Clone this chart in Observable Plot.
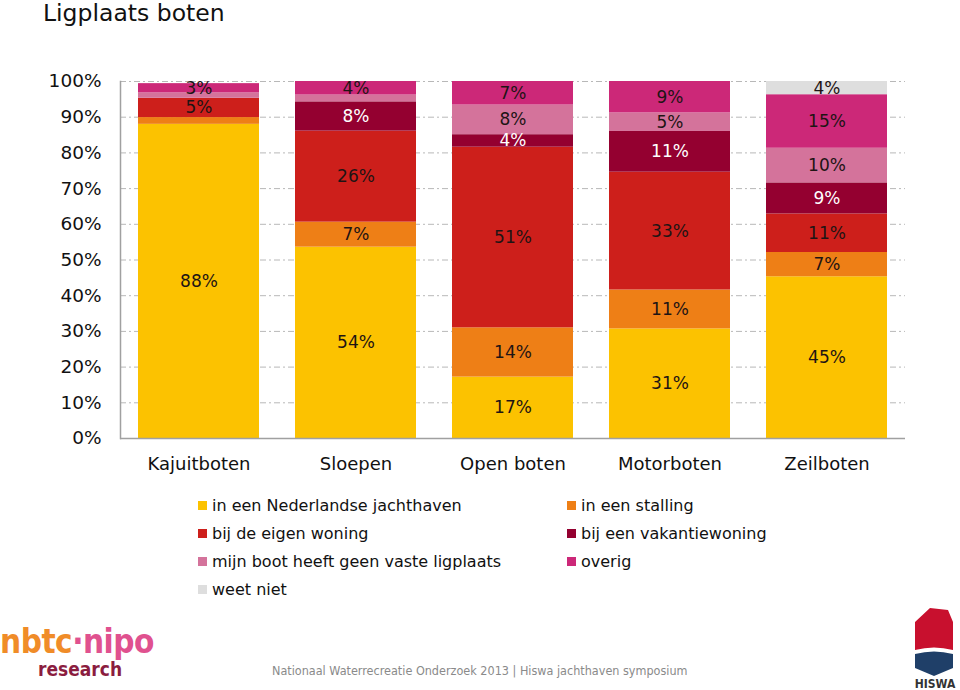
<!DOCTYPE html>
<html>
<head>
<meta charset="utf-8">
<script src="https://cdn.jsdelivr.net/npm/d3@7"></script>
<script src="https://cdn.jsdelivr.net/npm/@observablehq/plot@0.6"></script>
<style>
  html, body { margin: 0; padding: 0; background: #fff; }
  #wrap { position: relative; width: 960px; height: 690px; overflow: hidden; font-family: "DejaVu Sans", Verdana, sans-serif; }
  #title { position: absolute; left: 43px; top: 0px; font-size: 23.5px; line-height: 26px; color: #111; }
  #chart { position: absolute; left: 0; top: 0; }
  #legend { position: absolute; left: 198px; top: 494px; display: grid; grid-template-columns: 369px 260px; row-gap: 6px; font-size: 16px; color: #111; }
  #legend .item { display: flex; align-items: center; height: 22px; white-space: nowrap; }
  #legend .sw { width: 9px; height: 9px; margin-right: 5px; flex: none; }
  #footer { position: absolute; left: 272px; top: 663px; font-family: "DejaVu Sans Condensed", "DejaVu Sans", sans-serif; font-size: 12.5px; color: #8a8a8a; white-space: nowrap; }
  #nbtc { position: absolute; left: 0px; top: 624px; font-family: "DejaVu Sans Condensed", "DejaVu Sans", sans-serif; font-weight: bold; }
  #nbtc .l1 { font-size: 33px; line-height: 35px; letter-spacing: -0.5px; }
  #nbtc .l2 { font-size: 19px; line-height: 20px; color: #8b1d3f; margin-left: 38px; }
  #hiswa { position: absolute; left: 908px; top: 604px; }
</style>
</head>
<body>
<div id="wrap">
  <div id="title">Ligplaats boten</div>
  <div id="chart"></div>
  <div id="legend"></div>
  <div id="nbtc"><div class="l1"><span style="color:#f08c28">nbtc</span><span style="color:#e0518f">·nipo</span></div><div class="l2">research</div></div>
  <div id="footer">Nationaal Waterrecreatie Onderzoek 2013 | Hiswa jachthaven symposium</div>
  <svg id="hiswa" width="52" height="86" viewBox="0 0 52 86">
    <path d="M7 18 L22 4 L40 6 L45 18 L45 46 Q26 41 7 46 Z" fill="#c8102e"/>
    <path d="M7 50 Q26 45 45 50 L45 64 L26 72 L7 64 Z" fill="#1f3f68"/>
    <text x="27" y="84" text-anchor="middle" font-family="DejaVu Sans Condensed, DejaVu Sans, sans-serif" font-weight="bold" font-size="12" fill="#333">HISWA</text>
  </svg>
</div>
<script>
const categories = ["Kajuitboten", "Sloepen", "Open boten", "Motorboten", "Zeilboten"];
const series = [
  "in een Nederlandse jachthaven",
  "in een stalling",
  "bij de eigen woning",
  "bij een vakantiewoning",
  "mijn boot heeft geen vaste ligplaats",
  "overig",
  "weet niet"
];
const colors = ["#fcc200", "#ee7f16", "#cd1f1b", "#940030", "#d4739b", "#cc2878", "#dedede"];
// values (%) per series, in category order
const jachthaven     = [88.0, 53.6, 17.2, 30.7, 45.3];
const stalling       = [1.9, 7.0, 13.8, 10.9, 6.8];
const eigenWoning    = [5.4, 25.5, 50.6, 33.0, 10.8];
const vakantiewoning = [0, 8.2, 3.5, 11.4, 8.7];
const geenLigplaats  = [1.5, 1.9, 8.3, 5.2, 9.7];
const overig         = [2.6, 3.8, 6.6, 8.8, 15.0];
const weetNiet       = [0, 0, 0, 0, 3.7];
const yTicks = [0, 10, 20, 30, 40, 50, 60, 70, 80, 90, 100];

const valueLists = [jachthaven, stalling, eigenWoning, vakantiewoning, geenLigplaats, overig, weetNiet];
const data = [];
categories.forEach((c, i) => {
  series.forEach((s, j) => {
    data.push({category: c, series: s, value: valueLists[j][i]});
  });
});

const labelMin = 3;
const darkSeries = "bij een vakantiewoning";
const lbl = d => Math.round(d.value);

const plot = Plot.plot({
  width: 960,
  height: 480,
  marginLeft: 120,
  marginRight: 55,
  marginTop: 81,
  marginBottom: 42,
  style: {fontFamily: "DejaVu Sans, Verdana, sans-serif", background: "transparent"},
  x: {domain: categories, paddingInner: 0.23, paddingOuter: 0.115, label: null},
  y: {domain: [0, 100], label: null},
  color: {domain: series, range: colors},
  marks: [
    Plot.ruleY(yTicks.filter(d => d > 0), {stroke: "#b8b8b8", strokeWidth: 1, strokeDasharray: "6,3,2,3"}),
    Plot.barY(data, {x: "category", y: "value", fill: "series", z: "series"}),
    Plot.text(data, Plot.stackY({
      x: "category", y: "value", z: "series",
      text: d => (lbl(d) >= labelMin && d.series !== darkSeries) ? lbl(d) + "%" : "",
      fill: "#1e1414", fontSize: 17
    })),
    Plot.text(data, Plot.stackY({
      x: "category", y: "value", z: "series",
      text: d => (lbl(d) >= labelMin && d.series === darkSeries) ? lbl(d) + "%" : "",
      fill: "white", fontSize: 17
    })),
    Plot.ruleY([0], {stroke: "#a0a0a0", strokeWidth: 1.5}),
    Plot.axisY({ticks: yTicks, tickFormat: d => d + "%", tickSize: 0, tickPadding: 19, fontSize: 18.5, fill: "#111"}),
    Plot.axisX({tickSize: 0, tickPadding: 19, fontSize: 18, fill: "#111"}),
    Plot.frame({anchor: "left", stroke: "#a0a0a0", strokeWidth: 1.5})
  ]
});
document.getElementById("chart").appendChild(plot);

const legend = document.getElementById("legend");
series.forEach((s, j) => {
  const item = document.createElement("div");
  item.className = "item";
  const sw = document.createElement("span");
  sw.className = "sw";
  sw.style.background = colors[j];
  const t = document.createElement("span");
  t.textContent = s;
  item.appendChild(sw);
  item.appendChild(t);
  legend.appendChild(item);
});
</script>
</body>
</html>
